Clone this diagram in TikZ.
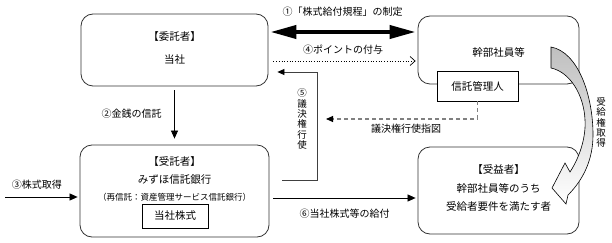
\documentclass[tikz,border=0pt]{standalone}
\usepackage{fontspec}
\setmainfont{Noto Sans CJK JP}
\usetikzlibrary{arrows.meta,calc}
\begin{document}
\begin{tikzpicture}[x=1pt,y=-1pt,
  box/.style={draw=black!80, line width=0.8pt, rounded corners=12pt, inner sep=0pt},
  sbox/.style={draw=black, line width=0.8pt, fill=white, inner sep=0pt, font=\fontsize{10.5}{12}\selectfont},
  txt/.style={inner sep=0pt, font=\fontsize{10.5}{12}\selectfont},
  stxt/.style={inner sep=0pt, font=\fontsize{8.5}{10}\selectfont},
  lbl/.style={inner sep=0pt, font=\fontsize{10}{12}\selectfont},
  vlbl/.style={inner sep=0pt, align=center, font=\fontsize{9.5}{10.3}\selectfont},
  arr/.style={line width=0.7pt, -{Triangle[length=8pt,width=7pt]}},
  bigarr/.style={line width=4pt, {Triangle[length=26pt,width=13pt]}-{Triangle[length=26pt,width=13pt]}},
  dotarr/.style={dotted, line width=0.7pt, -{Straight Barb[length=5pt,width=9pt,line width=0.7pt]}},
  grayarr/.style={draw=gray, dash pattern=on 4pt off 3pt, line width=1.1pt, -{Triangle[length=7pt,width=6pt,color=black]}},
  linearr/.style={draw=black!75, line width=0.8pt, -{Triangle[length=7pt,width=6pt,color=black]}}
]
\useasboundingbox (0,0) rectangle (612,243);

% boxes
\node[box, minimum width=187pt, minimum height=72pt] (itaku) at (174.5,50) {};
\node[box, minimum width=161pt, minimum height=68pt] (kanbu) at (498.5,50) {};
\node[box, minimum width=189pt, minimum height=92pt] (jutaku) at (174.5,191) {};
\node[box, minimum width=161pt, minimum height=87pt] (jueki) at (498.5,190.5) {};
\node[sbox, minimum width=81pt, minimum height=30pt] (shintaku) at (477.5,86) {信託管理人};
\node[sbox, minimum width=66pt, minimum height=24pt] (kabu) at (175,216) {当社株式};

% box texts
\node[txt] (t1a) at (174.5,37) {【委託者】};
\node[txt] (t1b) at (174.5,60) {当社};
\node[txt] (t2a) at (498.5,52) {幹部社員等};
\node[txt] (t3a) at (174.5,162) {【受託者】};
\node[txt] (t3b) at (174.5,180) {みずほ信託銀行};
\node[stxt] (t3c) at (174.5,197.5) {（再信託：資産管理サービス信託銀行）};
\node[txt] (t4a) at (498.5,170) {【受益者】};
\node[txt] (t4b) at (498.5,188) {幹部社員等のうち};
\node[txt] (t4c) at (498.5,206) {受給者要件を満たす者};

% (1) thick arrow
\draw[bigarr, shorten <=2pt, shorten >=2pt] (itaku.east |- 0,32) -- (kanbu.west |- 0,32);
\node[lbl] (l1) at (342.5,12) {①「株式給付規程」の制定};

% (4) dotted arrow
\draw[dotarr] ($(itaku.east |- 0,61)+(5,0)$) -- ($(kanbu.west |- 0,61)+(-2,0)$);
\node[lbl] (l4) at (343,50) {④ポイントの付与};

% voting instruction
\coordinate (gtip) at (326,119);
\draw[grayarr] (shintaku.south) |- (gtip);
\node[lbl] (lg) at (406,129) {議決権行使指図};

% (5) voting right exercise
\coordinate (v5s) at (282,180);
\coordinate (v5c) at (317,72);
\draw[linearr] (v5s) -| (v5c) -- ($(itaku.east |- v5c)+(9,0)$);
\node[vlbl] (l5) at (302,119) {⑤\\議\\決\\権\\行\\使};

% (2) money trust
\draw[arr] ($(itaku.south)+(0,4)$) -- ($(jutaku.north)+(0,-6)$);
\node[lbl] (l2) at (131.5,114) {②金銭の信託};

% (3) share acquisition
\coordinate (s3) at (5,197);
\draw[arr] (s3) -- ($(jutaku.west |- s3)+(-2,0)$);
\node[lbl] (l3) at (37,185) {③株式取得};

% (6) delivery
\draw[arr] ($(jutaku.east |- 0,198)+(4,0)$) -- ($(jueki.west |- 0,198)+(-2,0)$);
\node[lbl] (l6) at (344.5,214) {⑥当社株式等の給付};

% curved arrow
\draw[black, line width=0.6pt, top color=gray!50, bottom color=white]
  (551,47) .. controls (578,52) and (593,95) .. (593,135)
  .. controls (593,160) and (583,180) .. (568,195)
  -- (566,204) -- (552,188) -- (565,163) -- (570,172)
  .. controls (581,155) and (586,135) .. (585,120)
  .. controls (584,95) and (570,72) .. (551,68) -- cycle;
\node[vlbl] (lr) at (601,122.5) {受\\給\\権\\取\\得};
\end{tikzpicture}
\end{document}
